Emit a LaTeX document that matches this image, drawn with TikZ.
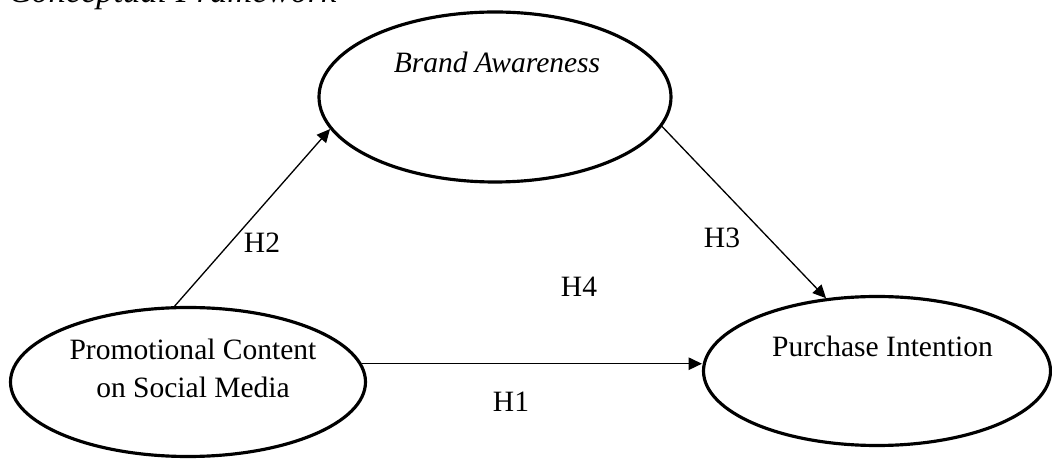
\documentclass[tikz,border=0pt]{standalone}
\usepackage{fontspec}
\setmainfont{Liberation Serif}
\usetikzlibrary{positioning,arrows.meta,shapes.geometric}

\begin{document}
\begin{tikzpicture}[
  every node/.style={font=\fontsize{16.8}{21.6}\selectfont},
  construct/.style={ellipse, draw, line width=1.8pt, inner sep=0pt},
  link/.style={line width=0.75pt, -{Triangle[length=7.5pt, width=7pt]}},
  hyp/.style={inner sep=0pt}
]
\useasboundingbox (0,0) rectangle (21.04,9.18);

% Title
\node[anchor=base west, inner sep=0pt, font=\fontsize{19.6}{24}\selectfont\itshape] (title) at (0.16,9.12) {Conceptual Framework};

% Constructs
\node[construct, minimum width=7.04cm, minimum height=3.40cm] (BA) at (9.90,7.24) {};
\node[construct, minimum width=7.10cm, minimum height=2.98cm] (PC) at (3.76,1.54) {};
\node[construct, minimum width=6.94cm, minimum height=2.98cm] (PI) at (17.54,1.76) {};

\node[anchor=base] (BAtext) at (9.94,7.72) {\itshape Brand Awareness};
\node[align=center] (PCtext) at (3.86,1.81) {Promotional Content\\on Social Media};
\node[anchor=base] (PItext) at (17.65,2.04) {Purchase Intention};

% Paths
\draw[link] (PC.100) -- (BA.191);
\draw[link] (BA.350) -- (PI.125);
\draw[link] (PC.6) -- (PC.6 -| PI.west);

% Hypotheses
\node[hyp] (H1) at (10.22,1.14) {H1};
\node[hyp] (H2) at (5.24,4.32) {H2};
\node[hyp] (H3) at (14.44,4.42) {H3};
\node[hyp] (H4) at (11.58,3.44) {H4};
\end{tikzpicture}
\end{document}
